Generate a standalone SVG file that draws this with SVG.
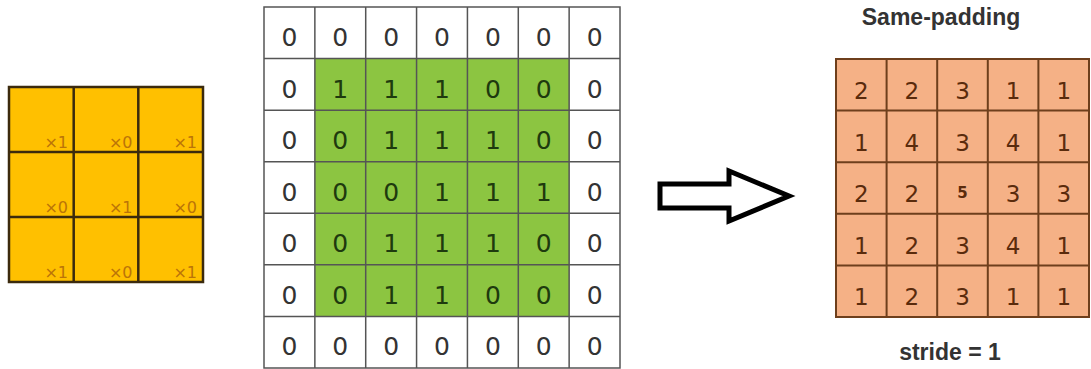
<svg xmlns="http://www.w3.org/2000/svg" width="1091" height="369" viewBox="0 0 1091 369">
<style>
.kl{font-family:"DejaVu Sans",sans-serif;font-size:16px;fill:#bb7408;text-anchor:end}
.mi{font-family:"DejaVu Sans",sans-serif;font-size:25px;fill:#333;text-anchor:middle}
.mg{font-family:"DejaVu Sans",sans-serif;font-size:25px;fill:#1e3a0e;text-anchor:middle}
.ov{font-family:"DejaVu Sans","Noto Sans",sans-serif;font-size:23px;fill:#5a2b0c;text-anchor:middle}
.ttl{font-family:"Liberation Sans",Arial,sans-serif;font-size:23px;font-weight:bold;fill:#333;text-anchor:middle}
</style>
<rect width="1091" height="369" fill="#fff"/>
<g id="kernel">
<rect x="9" y="87" width="194" height="195" fill="#ffc000"/>
<path d="M73.7,87V282M138.3,87V282M9,152H203M9,217H203" stroke="#3b2a0d" stroke-width="2.5" fill="none"/>
<rect x="9" y="87" width="194" height="195" fill="none" stroke="#3b2a0d" stroke-width="2.5"/>
<text class="kl" x="68" y="148">×1</text><text class="kl" x="132.5" y="148">×0</text><text class="kl" x="197" y="148">×1</text>
<text class="kl" x="68" y="213">×0</text><text class="kl" x="132.5" y="213">×1</text><text class="kl" x="197" y="213">×0</text>
<text class="kl" x="68" y="278">×1</text><text class="kl" x="132.5" y="278">×0</text><text class="kl" x="197" y="278">×1</text>
</g>
<g id="input">
<rect x="264" y="7" width="356" height="361" fill="#fff"/>
<rect x="314.86" y="58.57" width="254.28" height="257.86" fill="#8cc541"/>
<path d="M314.86,7V368M365.71,7V368M416.57,7V368M467.43,7V368M518.29,7V368M569.14,7V368M264,58.57H620M264,110.14H620M264,161.71H620M264,213.29H620M264,264.86H620M264,316.43H620" stroke="#555" stroke-width="1.5" fill="none"/>
<rect x="264" y="7" width="356" height="361" fill="none" stroke="#555" stroke-width="1.5"/>
<g>
<text class="mi" x="289.4" y="46">0</text><text class="mi" x="340.3" y="46">0</text><text class="mi" x="391.1" y="46">0</text><text class="mi" x="442" y="46">0</text><text class="mi" x="492.9" y="46">0</text><text class="mi" x="543.7" y="46">0</text><text class="mi" x="594.6" y="46">0</text>
<text class="mi" x="289.4" y="97.6">0</text><text class="mg" x="340.3" y="97.6">1</text><text class="mg" x="391.1" y="97.6">1</text><text class="mg" x="442" y="97.6">1</text><text class="mg" x="492.9" y="97.6">0</text><text class="mg" x="543.7" y="97.6">0</text><text class="mi" x="594.6" y="97.6">0</text>
<text class="mi" x="289.4" y="149.1">0</text><text class="mg" x="340.3" y="149.1">0</text><text class="mg" x="391.1" y="149.1">1</text><text class="mg" x="442" y="149.1">1</text><text class="mg" x="492.9" y="149.1">1</text><text class="mg" x="543.7" y="149.1">0</text><text class="mi" x="594.6" y="149.1">0</text>
<text class="mi" x="289.4" y="200.7">0</text><text class="mg" x="340.3" y="200.7">0</text><text class="mg" x="391.1" y="200.7">0</text><text class="mg" x="442" y="200.7">1</text><text class="mg" x="492.9" y="200.7">1</text><text class="mg" x="543.7" y="200.7">1</text><text class="mi" x="594.6" y="200.7">0</text>
<text class="mi" x="289.4" y="252.3">0</text><text class="mg" x="340.3" y="252.3">0</text><text class="mg" x="391.1" y="252.3">1</text><text class="mg" x="442" y="252.3">1</text><text class="mg" x="492.9" y="252.3">1</text><text class="mg" x="543.7" y="252.3">0</text><text class="mi" x="594.6" y="252.3">0</text>
<text class="mi" x="289.4" y="303.9">0</text><text class="mg" x="340.3" y="303.9">0</text><text class="mg" x="391.1" y="303.9">1</text><text class="mg" x="442" y="303.9">1</text><text class="mg" x="492.9" y="303.9">0</text><text class="mg" x="543.7" y="303.9">0</text><text class="mi" x="594.6" y="303.9">0</text>
<text class="mi" x="289.4" y="355.4">0</text><text class="mi" x="340.3" y="355.4">0</text><text class="mi" x="391.1" y="355.4">0</text><text class="mi" x="442" y="355.4">0</text><text class="mi" x="492.9" y="355.4">0</text><text class="mi" x="543.7" y="355.4">0</text><text class="mi" x="594.6" y="355.4">0</text>
</g>
</g>
<g id="connectors">
<path d="M660,184H729V171L789,196L729,221V208H660Z" fill="#fff" stroke="#000" stroke-width="5" stroke-linejoin="miter"/>
</g>
<g id="output">
<text class="ttl" x="941" y="25">Same-padding</text>
<rect x="836" y="59" width="253" height="258" fill="#f5b186"/>
<path d="M886.6,59V317M937.2,59V317M987.8,59V317M1038.4,59V317M836,110.6H1089M836,162.2H1089M836,213.8H1089M836,265.4H1089" stroke="#6e3f1c" stroke-width="2" fill="none"/>
<rect x="836" y="59" width="253" height="258" fill="none" stroke="#6e3f1c" stroke-width="2"/>
<text class="ov" x="861.3" y="99">2</text><text class="ov" x="911.9" y="99">2</text><text class="ov" x="962.5" y="99">3</text><text class="ov" x="1013.1" y="99">1</text><text class="ov" x="1063.7" y="99">1</text>
<text class="ov" x="861.3" y="150.6">1</text><text class="ov" x="911.9" y="150.6">4</text><text class="ov" x="962.5" y="150.6">3</text><text class="ov" x="1013.1" y="150.6">4</text><text class="ov" x="1063.7" y="150.6">1</text>
<text class="ov" x="861.3" y="202.2">2</text><text class="ov" x="911.9" y="202.2">2</text><text class="ov" x="962.5" y="198" style="font-size:15px;font-weight:bold">5</text><text class="ov" x="1013.1" y="202.2">3</text><text class="ov" x="1063.7" y="202.2">3</text>
<text class="ov" x="861.3" y="253.8">1</text><text class="ov" x="911.9" y="253.8">2</text><text class="ov" x="962.5" y="253.8">3</text><text class="ov" x="1013.1" y="253.8">4</text><text class="ov" x="1063.7" y="253.8">1</text>
<text class="ov" x="861.3" y="305.4">1</text><text class="ov" x="911.9" y="305.4">2</text><text class="ov" x="962.5" y="305.4">3</text><text class="ov" x="1013.1" y="305.4">1</text><text class="ov" x="1063.7" y="305.4">1</text>
<text class="ttl" x="950" y="360">stride = 1</text>
</g>
</svg>
